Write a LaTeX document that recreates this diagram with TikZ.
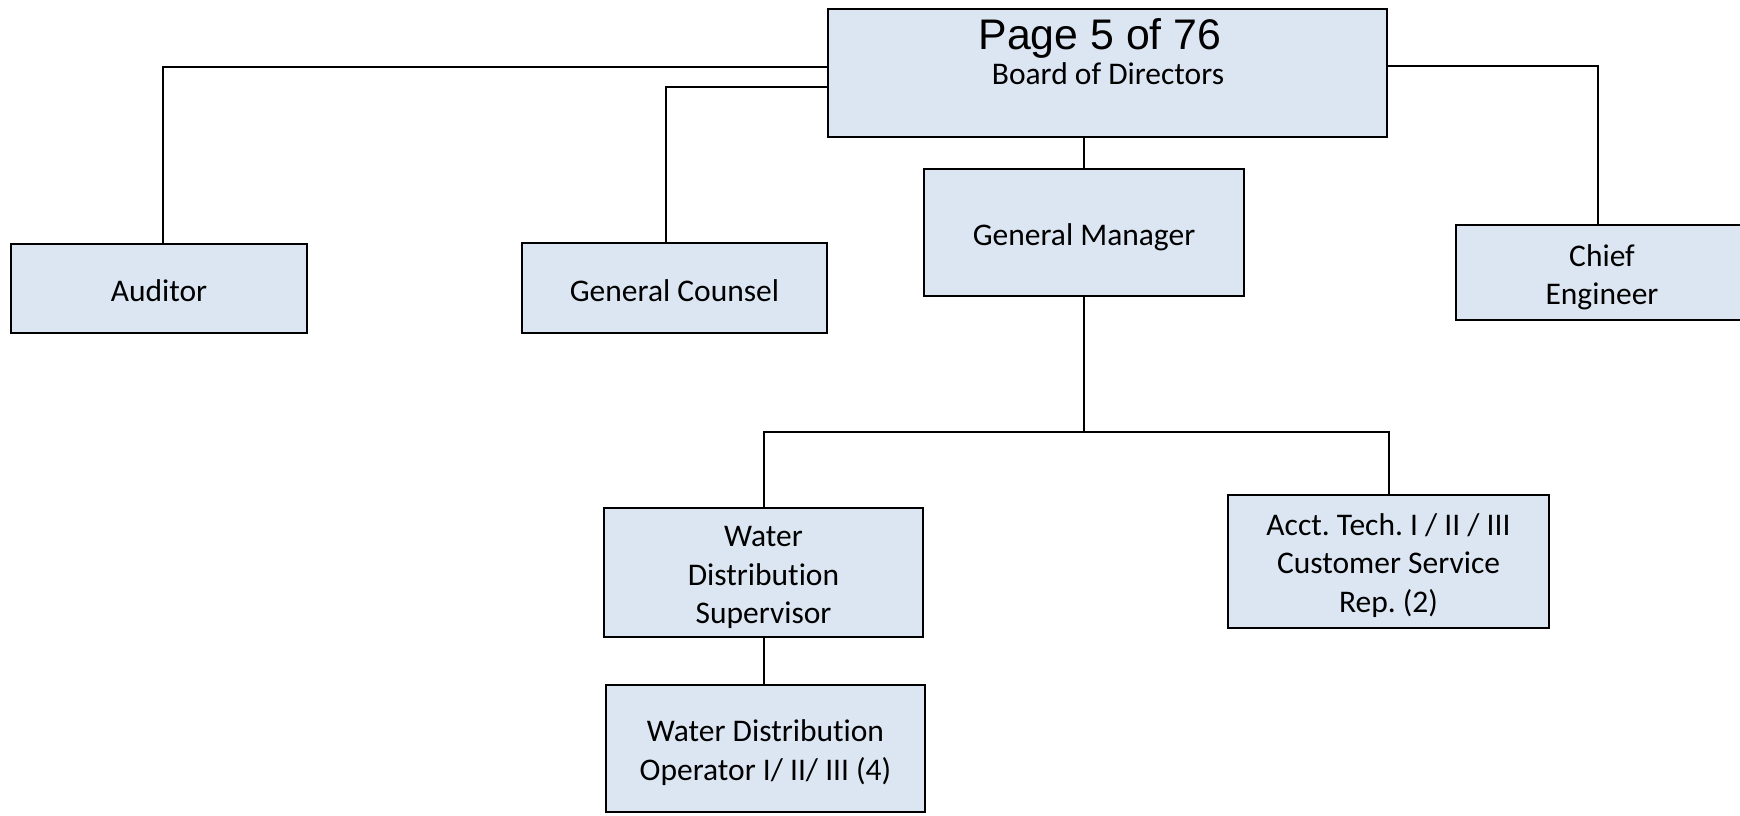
\documentclass[tikz,border=0pt]{standalone}
\usepackage{fontspec}
\setmainfont{Carlito}[Ligatures=NoCommon]
\newfontfamily\arialf{Liberation Sans}
\frenchspacing
\begin{document}
\begin{tikzpicture}[x=1pt,y=-1pt,
  box/.style={draw=black, line width=2pt, fill=boxfill, inner sep=0pt},
  txt/.style={inner sep=0pt, align=center, font=\fontsize{31.5}{38.4}\selectfont},
  conn/.style={draw=black, line width=2pt},
  lbl/.style={inner sep=0pt, anchor=base}]
\definecolor{boxfill}{HTML}{DCE6F2}
\useasboundingbox (0,0) rectangle (1740,815);
\node[box, minimum width=559pt, minimum height=128pt] (board) at (1107.5,73) {};
\node[lbl, font=\arialf\fontsize{42.8}{50}\selectfont] (page) at (1100,49) {Page 5 of 76};
\node[lbl, font=\fontsize{31.5}{38.4}\selectfont] (bodt) at (1108,84) {Board of Directors};
\node[box, minimum width=320pt, minimum height=127pt] (gm) at (1084,232.5) {};
\node[box, minimum width=296pt, minimum height=89pt] (aud) at (159,288.5) {};
\node[box, minimum width=305pt, minimum height=90pt] (gc) at (674.5,288) {};
\node[box, minimum width=285pt, minimum height=95pt] (chief) at (1598,272.5) {};
\node[box, minimum width=319pt, minimum height=129pt] (wds) at (763.5,572.5) {};
\node[box, minimum width=321pt, minimum height=133pt] (acct) at (1388.5,561.5) {};
\node[box, minimum width=319pt, minimum height=127pt] (wdo) at (765.5,748.5) {};
\node[txt] (gmt) at ([yshift=-4.5pt]gm.center) {General Manager};
\node[txt] (audt) at ([yshift=-2pt]aud.center) {Auditor};
\node[txt] (gct) at ([yshift=-2.5pt]gc.center) {General Counsel};
\node[txt] (chieft) at ([xshift=4pt,yshift=-4.5pt]chief.center) {Chief\\Engineer};
\node[txt] (wdst) at ([yshift=-5pt]wds.center) {Water\\Distribution\\Supervisor};
\node[txt] (acctt) at ([yshift=-4pt]acct.center) {Acct. Tech. I / II / III\\Customer Service\\Rep. (2)};
\node[txt] (wdot) at ([yshift=-4pt]wdo.center) {Water Distribution\\Operator I/ II/ III (4)};
\coordinate (bus) at (1084,432);
\draw[conn] ([yshift=6pt]board.west) -| ([xshift=4pt]aud.north);
\draw[conn] ([yshift=-14pt]board.west) -| ([xshift=-9pt]gc.north);
\draw[conn] ([yshift=7pt]board.east) -| (chief.north);
\draw[conn] (gm.north) -- (gm.north |- board.south);
\draw[conn] (gm.south) -- (bus);
\draw[conn] (wds.north) |- (bus) -| (acct.north);
\draw[conn] (wds.south) -- (wds.south |- wdo.north);
\end{tikzpicture}
\end{document}
